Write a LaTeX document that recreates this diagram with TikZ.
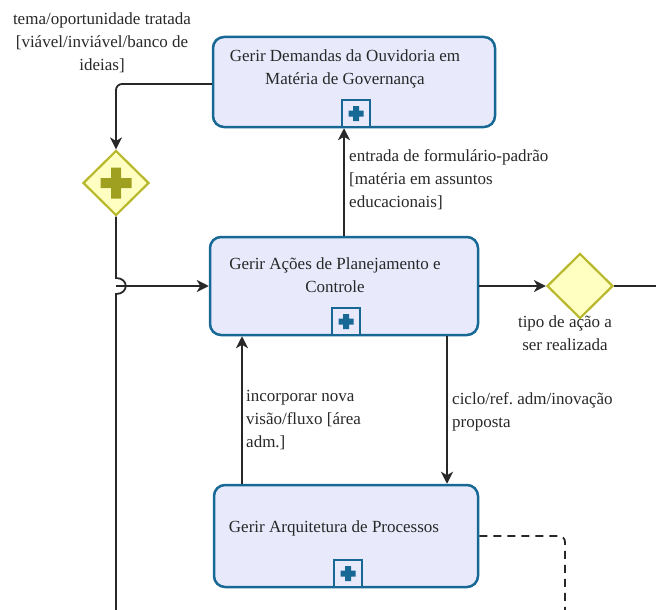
\documentclass[tikz,border=0pt]{standalone}
\usepackage{fontspec}
\setmainfont{Liberation Serif}
\usetikzlibrary{shapes.geometric,arrows.meta}
\frenchspacing

\definecolor{taskfill}{RGB}{232,234,252}
\definecolor{taskline}{RGB}{24,104,150}
\definecolor{gwfill}{RGB}{255,255,194}
\definecolor{gwline}{RGB}{184,184,44}
\definecolor{gwplus}{RGB}{160,160,32}
\definecolor{ink}{RGB}{40,40,40}

\tikzset{
  task/.style={draw=taskline, line width=2.5pt, fill=taskfill, rounded corners=11pt,
    inner sep=0pt},
  subproc/.style={draw=taskline, line width=2.2pt, fill=taskfill, inner sep=0pt,
    minimum width=28pt, minimum height=27pt, anchor=south},
  gateway/.style={diamond, draw=gwline, line width=2.2pt, fill=gwfill, inner sep=0pt,
    minimum width=66pt, minimum height=65pt},
  txt/.style={text=ink, font=\fontsize{17}{23}\selectfont, inner sep=0pt},
  flow/.style={draw=ink, line width=1.8pt, -{Stealth[length=12pt,width=12pt,inset=3.5pt]}},
  plainflow/.style={draw=ink, line width=1.8pt},
  assoc/.style={draw=ink, line width=1.8pt, dash pattern=on 8pt off 6pt}
}

\begin{document}
\begin{tikzpicture}[x=1pt,y=-1pt]
\useasboundingbox (0,0) rectangle (656,610);

% sub-process boxes
\node[task, minimum width=282pt, minimum height=90pt] (ouv) at (354,82) {};
\node[task, minimum width=268pt, minimum height=98pt] (plan) at (344,286) {};
\node[task, minimum width=264pt, minimum height=102pt] (arq) at (346,536) {};

\node[txt, align=center] (ouvt) at (345,69) {Gerir Demandas da Ouvidoria em\\Matéria de Governança};
\node[txt, align=center] (plant) at (335,275) {Gerir Ações de Planejamento e\\Controle};
\node[txt, align=center] (arqt) at (334,528) {Gerir Arquitetura de Processos};

% collapsed sub-process markers
\node[subproc] (ouvm) at ([xshift=2pt]ouv.south) {};
\node[subproc] (planm) at ([xshift=2pt]plan.south) {};
\node[subproc] (arqm) at ([xshift=2pt]arq.south) {};
\foreach \m in {ouvm,planm,arqm}
  \fill[taskline, shift={(\m.center)}] (-7.5,-3) rectangle (7.5,3) (-3,-7.5) rectangle (3,7.5);

% gateways
\node[gateway] (par) at (116,183) {};
\fill[gwplus, shift={(par.center)}] (-15.5,-5) rectangle (15.5,5) (-5,-15.5) rectangle (5,15.5);
\node[gateway] (xor) at (580,286) {};

% connectors
\coordinate (hop) at (116,286);
\coordinate (down) at (116,610);
\coordinate (out) at (656,286);
\coordinate (dashend) at (565,610);
\coordinate (upx) at (242,0);
\coordinate (dnx) at (447,0);

\draw[flow, rounded corners=6pt] ([yshift=-2pt]ouv.west) -| (par.north);
\draw[plainflow] (par.south) -- (116,278)
  .. controls (129,278) and (129,294) .. (116,294) -- (down);
\draw[flow] (hop) -- (plan.west);
\draw[flow] (plan.north) -- (plan.north |- ouv.south);
\draw[flow] (plan.east) -- (xor.west);
\draw[plainflow] (xor.east) -- (out);
\draw[flow] (plan.south -| dnx) -- (arq.north -| dnx);
\draw[flow] (arq.north -| upx) -- (plan.south -| upx);
\draw[assoc, rounded corners=6pt] (arq.east) -| (dashend);

% flow labels
\node[txt, align=center] (l1) at (102,43) {tema/oportunidade tratada\\{[}viável/inviável/banco de\\ideias]};
\node[txt, align=left, anchor=west] (l2) at (349,180) {entrada de formulário-padrão\\{[}matéria em assuntos\\educacionais]};
\node[txt, align=center] (l3) at (565,333.5) {tipo de ação a\\ser realizada};
\node[txt, align=left, anchor=west] (l4) at (246,420) {incorporar nova\\visão/fluxo {[}área\\adm.]};
\node[txt, align=left, anchor=west] (l5) at (452,411.5) {ciclo/ref. adm/inovação\\proposta};
\end{tikzpicture}
\end{document}
